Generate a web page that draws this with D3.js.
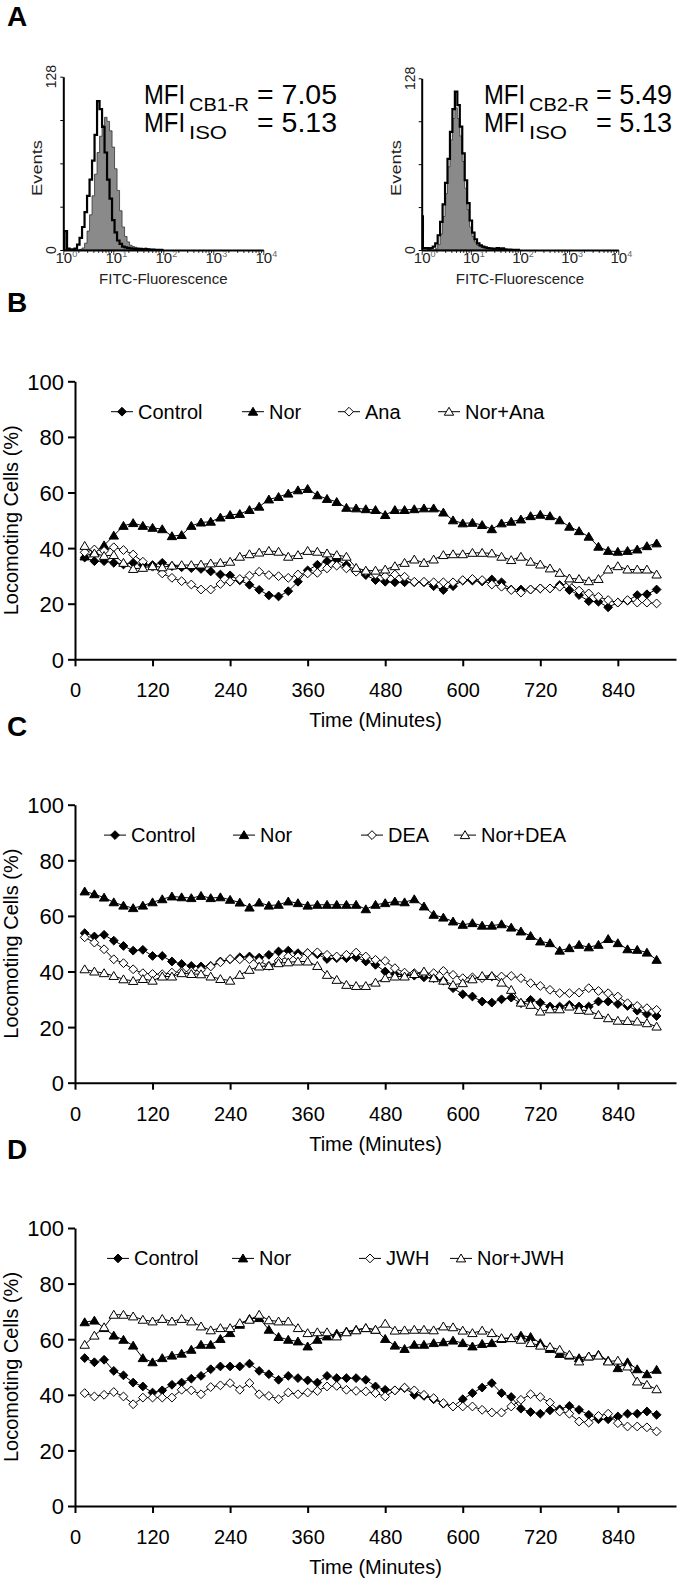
<!DOCTYPE html>
<html><head><meta charset="utf-8">
<script src="https://cdn.jsdelivr.net/npm/d3@7"></script>
<style>
body{margin:0;background:#fff}
svg{display:block}
text{font-family:Arial,"Liberation Sans",Helvetica,sans-serif}
</style>
</head><body>
<svg id="c" width="677" height="1578"></svg>
<script>
// ---------------- DATA ----------------
const times = [15,30,45,60,75,90,105,120,135,150,165,180,195,210,225,240,255,270,285,300,315,330,345,360,375,390,405,420,435,450,465,480,495,510,525,540,555,570,585,600,615,630,645,660,675,690,705,720,735,750,765,780,795,810,825,840,855,870,885,900];
const xTicks = [0,120,240,360,480,600,720,840];
const yTicks = [0,20,40,60,80,100];

const bControl = [36.6,35.3,35.3,34.7,34.1,34.7,33.9,33.9,34.7,33.5,33.1,32.8,32.5,31.6,30.5,30.2,28.4,26.8,25,23,22.6,24.5,27.9,32,34,35.3,35.8,33.9,32.1,30.3,28.5,27.9,27.7,27.7,27.7,27.7,26.3,24.9,26.3,28.3,28.3,28,28.7,27.7,25.1,25.1,25.1,25.5,25.5,26.7,24.9,23.1,20.9,20.7,18.7,20.4,21.1,23.1,23.4,25.1];
const bNor = [37,38.5,41,44.5,48,49,48,47.3,46.8,44.3,44.7,48,49.2,49.5,51,51.9,52.3,53.7,54.9,57.5,58.4,59.6,60.8,61.3,59,57.7,56.6,54.5,54.3,54,53.7,51.9,53.7,53.7,54,54.3,54.3,52.8,50,48.9,49.1,48.3,46.8,48.9,49.5,50.3,51.5,52,51.5,50,47.7,46.1,44.1,40.5,39,38.7,39,39.5,40.7,41.7];
const bAna = [38.5,39.5,39,40.3,39.3,37.7,35.1,33.3,30.9,29.3,28.1,26.9,25.1,25.1,27.1,27.9,28.9,30.1,31.5,30.3,29.9,29.3,30.5,30.9,31.1,32.7,33.7,32.7,31.5,31.5,30.5,29.9,30.5,29.7,27.9,27.9,27.7,27.7,27.7,28.5,28.9,28.5,26.9,26.1,24.9,24,25.1,25.5,25.5,26.1,27.9,24.7,23.7,22.5,21.3,20.4,21.3,20.4,20.4,20.1];
const bNorAna = [40.8,38.1,37.2,37.5,34.7,32.5,32.9,33.5,33.1,33.7,33.9,33.9,34.1,34.5,34.7,35.1,36.9,37.8,38.4,39,38.7,36.9,37.5,39,38.7,38.1,37.5,36.9,32.9,31.9,31.9,32.3,33.5,34.7,35.9,34.7,35.9,37.5,37.8,37.8,38.3,38.3,38.1,36.9,35.7,36.9,35.1,34.1,32.7,31.1,29.1,28.9,28.1,28.9,32.3,33.5,32.3,32.3,32.3,30.5];

const cControl = [53.8,52.6,53.2,51.1,49.2,47.5,47.8,45.6,45.6,43.6,42.7,42,41.8,42,43.6,44.4,45.1,45.4,45,46,47.2,47.5,46.6,46.6,46.2,44.5,44.8,44.8,45.1,43.6,42.4,40,39.1,38.8,38.5,37.9,37.6,36.7,34,31.8,31,29.2,28.8,30,30.6,28.6,29.8,28.8,27.4,27.4,28,27.4,27.4,29.2,29.2,28.3,27.6,25.9,24.7,24];
const cNor = [68.8,67.8,66.6,64.9,63.7,62.8,63.7,64.9,66,67,66.7,66.4,67.2,66.4,66.7,65.8,64.8,63,64.8,63.7,64,65.2,64.6,63.7,64,64,64,64,64,62.4,64,64.6,65.2,64.9,66,63.4,60.4,59.4,58,56.8,57.4,56.5,56.5,57,55.8,54.4,52.8,50.8,50.2,47.5,48.4,49.6,48.7,49.6,51.7,50.2,48,47.8,46.8,44.2];
const cDEA = [52.3,50.4,48,44.4,43,40.8,39.4,39.1,39,39.6,40,40,40.6,41.8,43.3,44.5,44.4,44.4,43.8,42,43.8,45.4,45.4,46.6,46.9,46,45.4,46,46.8,45.4,44.2,43.8,41.2,39.6,39.4,39.4,39.4,40.2,38.8,37.6,37.9,37.6,38.2,38.2,38.4,37.6,35.8,34.8,33.4,32.2,32.2,32.4,34,33,32.2,31,28.6,27.6,26.8,26.2];
const cNorDEA = [40.8,40,39.4,38.4,37.2,36.6,37.3,36.7,38.2,38.2,39.4,39.1,39,38.2,37.3,36.7,38.8,40.6,41.8,42,43,43.3,43.6,43.6,42,38.8,37,35.2,34.8,34.8,36,37.6,38.2,38.2,39.1,40,37.6,36.7,35.2,35.8,37.2,38.4,38.4,36,33.4,28.8,28,25.6,26.4,26.4,27.4,26.2,25.9,24.4,23.2,22.3,22.2,22,21.4,20.2];

const dControl = [53.2,51.7,52.6,48.6,47,44.4,43,40.8,41.6,43.6,44.4,45.8,46.8,49.2,50.2,50.2,50.2,51.2,48.6,47.4,45.4,46.8,46,45.2,44.4,46.8,46,46,46,45.4,43,41.8,41.6,42.4,40,39.6,38.4,36.8,35.8,38.4,40.6,42.6,44.2,40.6,39.2,35,33.8,33.2,34.4,34.8,36,34.6,32.8,31.2,31.2,32.2,33.2,33.2,34,32.8];
const dNor = [66.1,66.7,64,61.3,59.8,57.7,53.2,51.7,53.2,54.1,54.8,56.2,58,58,60.1,62.2,65.2,67.3,67.6,63.4,60.8,59.8,59.2,57.4,59.8,61,62,62.8,63.4,64,63.4,60.1,57.7,56.5,58,58,58.6,58.9,59.5,58.6,57.4,58.3,58.6,60.1,60.4,61.3,60.8,58.6,56.5,54.7,54.1,53.2,53.8,54.4,52.3,49.6,51.7,49.2,47.4,49];
const dJWH = [40.6,39.4,40,41,39.4,36.6,39,39,39,39,41.8,41.6,40.2,42.8,43.4,44.2,41.8,44.2,40.2,39.6,38.4,40.8,40.2,40.8,41.4,43,43.2,41.8,41.4,41.2,40.6,39.4,41.6,42.6,41.6,40,38.8,37,35.8,35.8,35.8,34.6,33.6,33.6,35.8,38.2,40.2,39.2,37.2,34,33.2,30.4,30,32.4,33.2,29.8,28.6,28.6,28.3,26.8];
const dNorJWH = [58,61.3,64.3,68.8,68.8,68.2,67,66.4,67.3,66.4,67.3,66.4,64.6,63.2,64,64,65.8,67,68.8,66.8,66.4,66.4,64,62.2,62.5,62.5,61,62.5,63.2,64,63.4,65.6,63.1,63.2,63.4,63.4,63.2,64.6,64.3,63.1,62.2,63.1,62.2,60.4,60.4,59.8,58.6,57.7,57.2,56.2,54.4,52,53.8,54.1,52,52.3,50.2,44.8,43.6,42];

const legendB = ["Control","Nor","Ana","Nor+Ana"];
const legendC = ["Control","Nor","DEA","Nor+DEA"];
const legendD = ["Control","Nor","JWH","Nor+JWH"];

// flow cytometry histograms (log10 fluorescence bins, events)
const logBins = [0,0.05,0.1,0.15,0.2,0.25,0.3,0.35,0.4,0.45,0.5,0.55,0.6,0.65,0.7,0.75,0.8,0.85,0.9,0.95,1,1.05,1.1,1.15,1.2,1.25,1.3,1.35,1.4,1.45,1.5,1.55,1.6,1.65,1.7,1.75,1.8,1.85,1.9,1.95,2];
const cb1Events = [0,0,0,0,0,0,0,0.5,1.5,5,14,26,40,56,72,84,92,98,95,88,76,60,44,29,17,10,6,3.5,2.5,2,1.5,1.2,1,1.5,0.8,0.5,0.5,0.3,0.3,0.2,0.2];
const iso1Events = [1,14,1,0.5,0.5,1,4,9,17,28,40,52,66,85,110,104,91,72,52,38,22,13,7,4.5,2.5,2,1.5,1.2,1,0.8,0.6,0.8,0.5,0.6,0.4,0.3,0.3,0.2,0.2,0.1,0.1];
const cb2Events = [0,0,0,0,0,0,1,4,12,25,42,62,82,98,106,98,85,66,46,30,17,10,6,3.5,2.5,2,1.5,1,1,0.8,0.6,1,0.6,0.8,0.4,0.3,0.3,0.2,0.2,0.1,0.1];
const iso2Events = [25,1.5,1.5,1,1.5,2.5,5,11,21,34,50,68,88,105,118,108,92,72,52,35,22,13,8,5,3.5,2.5,2,1.5,1.2,1,0.8,1.5,0.8,1.2,0.5,0.3,0.3,0.2,0.2,0.1,0.1];
const decadeExp = ["0","1","2","3","4"];
const mfiLeft = ["CB1-R","= 7.05","ISO","= 5.13"];
const mfiRight = ["CB2-R","= 5.49","ISO","= 5.13"];

// ---------------- DRAW ----------------
const svg = d3.select("#c");
svg.append("rect").attr("width",677).attr("height",1578).attr("fill","#fff");

[["A",26],["B",312],["C",736],["D",1159]].forEach(([t,y])=>{
  svg.append("text").attr("x",7).attr("y",y).attr("font-size",28).attr("font-weight","bold").text(t);
});

// ---------- Panel A ----------
function facs(cfg){
  const g = svg.append("g");
  const x = d3.scaleLog().domain([1,10000]).range([cfg.x0,cfg.x1]);
  const y = d3.scaleLinear().domain([0,128]).range([250,cfg.top]);
  const pts = (arr)=>logBins.map((b,i)=>({b:b,v:arr[i]}));
  const area = d3.area().x(d=>x(Math.pow(10,d.b))).y0(y(0)).y1(d=>y(d.v)).curve(d3.curveStep);
  const line = d3.line().x(d=>x(Math.pow(10,d.b))).y(d=>y(d.v)).curve(d3.curveStep);
  g.append("path").attr("d",area(pts(cfg.fill))).attr("fill","#8a8a8a").attr("stroke","#333").attr("stroke-width",0.8);
  g.append("path").attr("d",line(pts(cfg.iso))).attr("fill","none").attr("stroke","#000").attr("stroke-width",2.2);
  const ax = g.append("g").attr("transform","translate(0,250)")
    .call(d3.axisBottom(x).tickSize(3).tickSizeOuter(0).tickFormat(""));
  ax.select(".domain").attr("stroke-width",2);
  ax.selectAll(".tick line").attr("stroke-width",0.8)
    .attr("y2",d=>[1,10,100,1000,10000].includes(d)?5:3);
  const ay = g.append("g").attr("transform",`translate(${cfg.x0},0)`)
    .call(d3.axisLeft(y).tickValues([0,32,64,96,128]).tickSize(3).tickSizeOuter(0).tickFormat(""));
  ay.select(".domain").attr("stroke-width",2);
  [1,10,100,1000,10000].forEach((v,i)=>{
    const t = g.append("text").attr("x",x(v)+3).attr("y",263).attr("text-anchor","middle")
      .attr("font-size",15).attr("fill","#222");
    t.append("tspan").text("10");
    t.append("tspan").attr("font-size",9).attr("dy",-6).attr("fill","#666").text(decadeExp[i]);
  });
  g.append("text").attr("x",(cfg.x0+cfg.x1)/2).attr("y",284).attr("text-anchor","middle")
    .attr("font-size",15).attr("fill","#222").text("FITC-Fluorescence");
  [[0,250],[128,cfg.top]].forEach(([v,yy])=>{
    g.append("text").attr("transform",`translate(${cfg.x0-7},${yy}) rotate(-90)`).attr("text-anchor","middle")
      .attr("font-size",14).attr("fill","#222").text(v);
  });
  g.append("text").attr("transform",`translate(${cfg.x0-21},168) rotate(-90)`).attr("text-anchor","middle")
    .attr("font-size",15).attr("fill","#222").attr("textLength",56).attr("lengthAdjust","spacingAndGlyphs").text("Events");
  const m = cfg.mfi;
  const big = 28, sub = 18;
  [[104,0],[132,2]].forEach(([by,k])=>{
    g.append("text").attr("x",cfg.mx).attr("y",by).attr("font-size",big)
      .attr("textLength",41).attr("lengthAdjust","spacingAndGlyphs").text("MFI");
    g.append("text").attr("x",cfg.mx+45).attr("y",by+7).attr("font-size",sub)
      .attr("textLength",k===0?60:38).attr("lengthAdjust","spacingAndGlyphs").text(m[k]);
    g.append("text").attr("x",cfg.ex).attr("y",by).attr("font-size",big)
      .attr("textLength",cfg.ew).attr("lengthAdjust","spacingAndGlyphs").text(m[k+1]);
  });
}
facs({x0:63.3,x1:263.3,top:76.7,fill:cb1Events,iso:iso1Events,mfi:mfiLeft,mx:144,ex:257,ew:80});
facs({x0:421.7,x1:618.3,top:78.3,fill:cb2Events,iso:iso2Events,mfi:mfiRight,mx:484,ex:596,ew:76});

// ---------- Panels B, C, D ----------
const xL = d3.scaleLinear().domain([0,930]).range([75,676]);
const diamond = "M0,-4.4L4.4,0L0,4.4L-4.4,0Z";
const triangle = "M0,-4.4L4.7,3.5L-4.7,3.5Z";
const styles = [
  {path:diamond, fill:"#000"},
  {path:triangle, fill:"#000"},
  {path:diamond, fill:"#fff"},
  {path:triangle, fill:"#fff"}
];

function linePanel(cfg){
  const g = svg.append("g");
  const y = d3.scaleLinear().domain([0,100]).range([cfg.base, cfg.base-278]);
  const gx = g.append("g").attr("transform",`translate(0,${cfg.base})`)
    .call(d3.axisBottom(xL).tickValues(xTicks).tickSize(7).tickSizeOuter(0));
  gx.select(".domain").attr("stroke-width",2);
  gx.selectAll(".tick line").attr("stroke-width",2);
  gx.selectAll(".tick text").attr("y",38).attr("dy",null).attr("font-size",20)
    .attr("font-family","Arial,'Liberation Sans',sans-serif").attr("fill","#000");
  const gy = g.append("g").attr("transform","translate(75,0)")
    .call(d3.axisLeft(y).tickValues(yTicks).tickSize(7).tickSizeOuter(0));
  gy.select(".domain").attr("stroke-width",2);
  gy.selectAll(".tick line").attr("stroke-width",2);
  gy.selectAll(".tick text").attr("x",-11).attr("dy","0.36em").attr("font-size",22)
    .attr("font-family","Arial,'Liberation Sans',sans-serif").attr("fill","#000");
  g.append("text").attr("x",375.5).attr("y",cfg.base+68).attr("text-anchor","middle")
    .attr("font-size",20).text("Time (Minutes)");
  g.append("text").attr("transform",`translate(17.5,${cfg.base-139}) rotate(-90)`).attr("text-anchor","middle")
    .attr("font-size",20).text("Locomoting Cells (%)");
  const line = d3.line().x((d,i)=>xL(times[i])).y(d=>y(d));
  cfg.series.forEach((s,k)=>{
    const st = styles[k];
    const sg = g.append("g");
    sg.append("path").attr("d",line(s)).attr("fill","none").attr("stroke","#000").attr("stroke-width",1);
    sg.selectAll("path.m").data(s).join("path").attr("class","m")
      .attr("transform",(d,i)=>`translate(${xL(times[i])},${y(d)})`)
      .attr("d",st.path).attr("fill",st.fill).attr("stroke","#000").attr("stroke-width",1);
  });
  const ly = cfg.base-278+30.4;
  cfg.legend.forEach((name,k)=>{
    const mx = cfg.lx[k];
    const st = styles[k];
    g.append("line").attr("x1",mx-11).attr("x2",mx+11).attr("y1",ly).attr("y2",ly).attr("stroke","#000").attr("stroke-width",1);
    g.append("path").attr("transform",`translate(${mx},${ly})`).attr("d",st.path).attr("fill",st.fill).attr("stroke","#000").attr("stroke-width",1);
    g.append("text").attr("x",mx+16).attr("y",ly+7).attr("font-size",20).text(name);
  });
}
linePanel({base:659.3, series:[bControl,bNor,bAna,bNorAna], legend:legendB, lx:[122,253,349,449]});
linePanel({base:1082.7, series:[cControl,cNor,cDEA,cNorDEA], legend:legendC, lx:[115,244,372,465]});
linePanel({base:1506, series:[dControl,dNor,dJWH,dNorJWH], legend:legendD, lx:[118,243,370,461]});
</script>
</body></html>
